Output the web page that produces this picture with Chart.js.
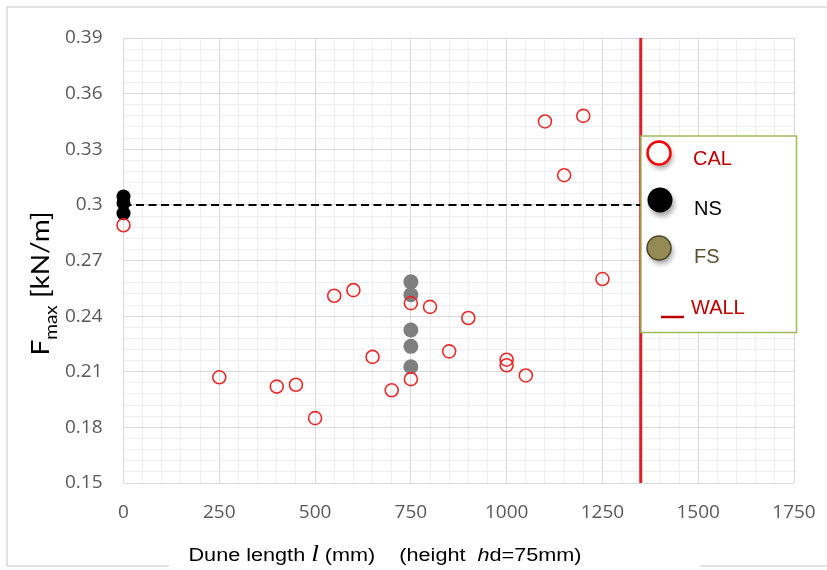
<!DOCTYPE html>
<html>
<head>
<meta charset="utf-8">
<script src="https://cdn.jsdelivr.net/npm/chart.js@4"></script>
<style>
html,body{margin:0;padding:0;background:#fff;}
canvas{display:block;}
</style>
</head>
<body>
<canvas id="c" width="827" height="570"></canvas>
<script>
// ---- data ----
const calLength = [0, 250, 400, 450, 500, 550, 600, 650, 700, 750, 750, 800, 850, 900, 1000, 1000, 1050, 1100, 1150, 1200, 1250];
const calForce  = [0.289, 0.207, 0.202, 0.203, 0.185, 0.251, 0.254, 0.218, 0.200, 0.247, 0.206, 0.245, 0.221, 0.239, 0.2165, 0.2135, 0.208, 0.345, 0.316, 0.348, 0.260];
const nsLength = [0, 0, 0];
const nsForce  = [0.3045, 0.301, 0.2955];
const fsLength = [750, 750, 750, 750, 750];
const fsForce  = [0.2585, 0.2515, 0.2325, 0.2237, 0.2127];
const wallLength = 1350;
const referenceForce = 0.3;

// ---- axis ticks ----
const xTickLabels = [0, 250, 500, 750, 1000, 1250, 1500, 1750];
const yTickLabels = [0.15, 0.18, 0.21, 0.24, 0.27, 0.3, 0.33, 0.36, 0.39];
const xMinorStep = 50;
const yMinorStep = 0.006;
const legendLabels = ['CAL', 'NS', 'FS', 'WALL'];

const xMin = xTickLabels[0], xMax = xTickLabels[xTickLabels.length - 1];
const yMin = yTickLabels[0], yMax = yTickLabels[yTickLabels.length - 1];

function pts(xs, ys) { return xs.map((x, i) => ({ x: x, y: ys[i] })); }

const xGrid = [];
for (let v = xMin; v <= xMax + 1e-9; v += xMinorStep) xGrid.push(v);
const yGrid = [];
for (let i = 0; yMin + i * yMinorStep <= yMax + 1e-9; i++) yGrid.push(Math.round((yMin + i * yMinorStep) * 1000) / 1000);

const isMajorX = v => xTickLabels.includes(v);
const isMajorY = v => yTickLabels.some(t => Math.abs(t - v) < 1e-6);

const MAJOR = '#d9d9d9', MINOR = '#eeeeee';
const TICK_FONT = { family: 'Open Sans', size: 19 };

const framePlugin = {
  id: 'frame',
  beforeDraw(chart) {
    const ctx = chart.ctx;
    ctx.save();
    ctx.fillStyle = '#fff';
    ctx.fillRect(0, 0, chart.width, chart.height);
    ctx.strokeStyle = '#d9d9d9';
    ctx.lineWidth = 1.5;
    ctx.beginPath();
    ctx.moveTo(7, 566); ctx.lineTo(7, 7); ctx.lineTo(827, 7);
    ctx.moveTo(7, 566); ctx.lineTo(169, 566);
    ctx.moveTo(700, 566); ctx.lineTo(827, 566);
    ctx.stroke();
    ctx.restore();
  }
};

function drawRun(ctx, parts, targetWidth) {
  let total = 0;
  parts.forEach(p => { ctx.font = p.font; p.w = ctx.measureText(p.text).width; total += p.w; });
  const s = targetWidth / total;
  ctx.scale(s, 1);
  let cx = 0;
  parts.forEach(p => {
    ctx.font = p.font;
    ctx.fillStyle = p.color || '#000';
    ctx.fillText(p.text, cx, p.dy || 0);
    cx += p.w;
  });
}

const annotPlugin = {
  id: 'annot',
  afterDraw(chart) {
    const ctx = chart.ctx;
    // y-axis title
    ctx.save();
    ctx.textBaseline = 'alphabetic';
    ctx.translate(48.5, 355.5);
    ctx.rotate(-Math.PI / 2);
    drawRun(ctx, [
      { text: 'F', font: '25px Lato' },
      { text: 'max', font: '17px Lato', dy: 8 },
      { text: ' [kN/m]', font: '25px Lato' }
    ], 144);
    ctx.restore();

    // x-axis title
    ctx.save();
    ctx.textBaseline = 'alphabetic';
    ctx.translate(188.5, 561);
    drawRun(ctx, [
      { text: 'Dune length ', font: '18px "Liberation Sans"' },
      { text: 'l', font: 'italic 23px "Liberation Serif"' },
      { text: ' (mm)', font: '18px "Liberation Sans"' },
      { text: '    (height  ', font: '18px "Liberation Sans"' },
      { text: 'h', font: 'italic 18px "Liberation Sans"' },
      { text: 'd=75mm)', font: '18px "Liberation Sans"' }
    ], 393);
    ctx.restore();

    // legend box
    ctx.save();
    ctx.fillStyle = '#fff';
    ctx.fillRect(641, 136, 155.5, 196.5);
    ctx.strokeStyle = '#9bbb59';
    ctx.lineWidth = 1.5;
    ctx.strokeRect(641, 136, 155.5, 196.5);

    function marker(x, y, r, fill, stroke, lw) {
      ctx.save();
      ctx.shadowColor = 'rgba(0,0,0,0.35)';
      ctx.shadowBlur = 5;
      ctx.shadowOffsetX = 2;
      ctx.shadowOffsetY = 4;
      ctx.beginPath();
      ctx.arc(x, y, r, 0, Math.PI * 2);
      ctx.fillStyle = fill;
      ctx.fill();
      ctx.shadowColor = 'rgba(0,0,0,0)';
      if (stroke) { ctx.strokeStyle = stroke; ctx.lineWidth = lw; ctx.stroke(); }
      ctx.restore();
    }
    marker(659, 153, 11.5, '#fff', '#ff0000', 2.5);
    marker(660, 200, 12.5, '#000', null, 0);
    marker(659, 248, 12, '#948a54', '#4a4428', 1.5);
    ctx.strokeStyle = '#c00000';
    ctx.lineWidth = 2.5;
    ctx.beginPath(); ctx.moveTo(661, 317); ctx.lineTo(684, 317); ctx.stroke();

    ctx.font = '20px "Liberation Sans"';
    ctx.textBaseline = 'middle';
    ctx.textAlign = 'left';
    ctx.fillStyle = '#c00000'; ctx.fillText(legendLabels[0], 693, 159);
    ctx.fillStyle = '#000000'; ctx.fillText(legendLabels[1], 694, 209);
    ctx.fillStyle = '#57512f'; ctx.fillText(legendLabels[2], 694, 257);
    ctx.fillStyle = '#c00000'; ctx.fillText(legendLabels[3], 691, 308);
    ctx.restore();
  }
};

new Chart(document.getElementById('c').getContext('2d'), {
  type: 'scatter',
  data: {
    datasets: [
      { label: 'CAL', data: pts(calLength, calForce), pointRadius: 6.5, borderWidth: 1.6,
        borderColor: '#ea2a2a', backgroundColor: 'rgba(255,255,255,0)', order: 0, clip: false },
      { label: 'NS', data: pts(nsLength, nsForce), pointRadius: 7, borderWidth: 0,
        borderColor: '#000', backgroundColor: '#000', order: 1, clip: false },
      { label: 'FS', data: pts(fsLength, fsForce), pointRadius: 7.5, borderWidth: 0,
        borderColor: '#7f7f7f', backgroundColor: '#7f7f7f', order: 2, clip: false },
      { label: 'ref', type: 'line', data: [{ x: xMin, y: referenceForce }, { x: wallLength, y: referenceForce }],
        borderColor: '#000', borderWidth: 2, borderDash: [8, 4.5], pointRadius: 0, order: 3, fill: false },
      { label: 'WALL', type: 'line', data: [{ x: wallLength, y: yMin }, { x: wallLength, y: yMax }],
        borderColor: '#e31b23', borderWidth: 3, pointRadius: 0, order: 4, fill: false }
    ]
  },
  options: {
    responsive: false,
    animation: false,
    events: [],
    layout: { padding: { left: 0, top: 38, right: 33, bottom: 0 } },
    plugins: { legend: { display: false }, tooltip: { enabled: false } },
    scales: {
      x: {
        type: 'linear', min: xMin, max: xMax,
        afterBuildTicks: s => { s.ticks = xGrid.map(v => ({ value: v })); },
        afterFit: s => { s.height = 87; s.paddingLeft = 0; s.paddingRight = 0; },
        ticks: { autoSkip: false, maxRotation: 0, padding: 18, color: '#595959', font: TICK_FONT,
          callback: v => isMajorX(v) ? String(v) : '' },
        grid: { drawTicks: false, lineWidth: 1, color: c => isMajorX(c.tick.value) ? MAJOR : MINOR },
        border: { display: false }
      },
      y: {
        type: 'linear', min: yMin, max: yMax,
        afterBuildTicks: s => { s.ticks = yGrid.map(v => ({ value: v })); },
        afterFit: s => { s.width = 123.5; s.paddingTop = 0; s.paddingBottom = 0; },
        ticks: { autoSkip: false, padding: 21, color: '#595959', font: TICK_FONT,
          callback: v => isMajorY(v) ? String(+v.toFixed(2)) : '' },
        grid: { drawTicks: false, lineWidth: 1, color: c => isMajorY(c.tick.value) ? MAJOR : MINOR },
        border: { display: false }
      }
    }
  },
  plugins: [framePlugin, annotPlugin]
});
</script>
</body>
</html>
